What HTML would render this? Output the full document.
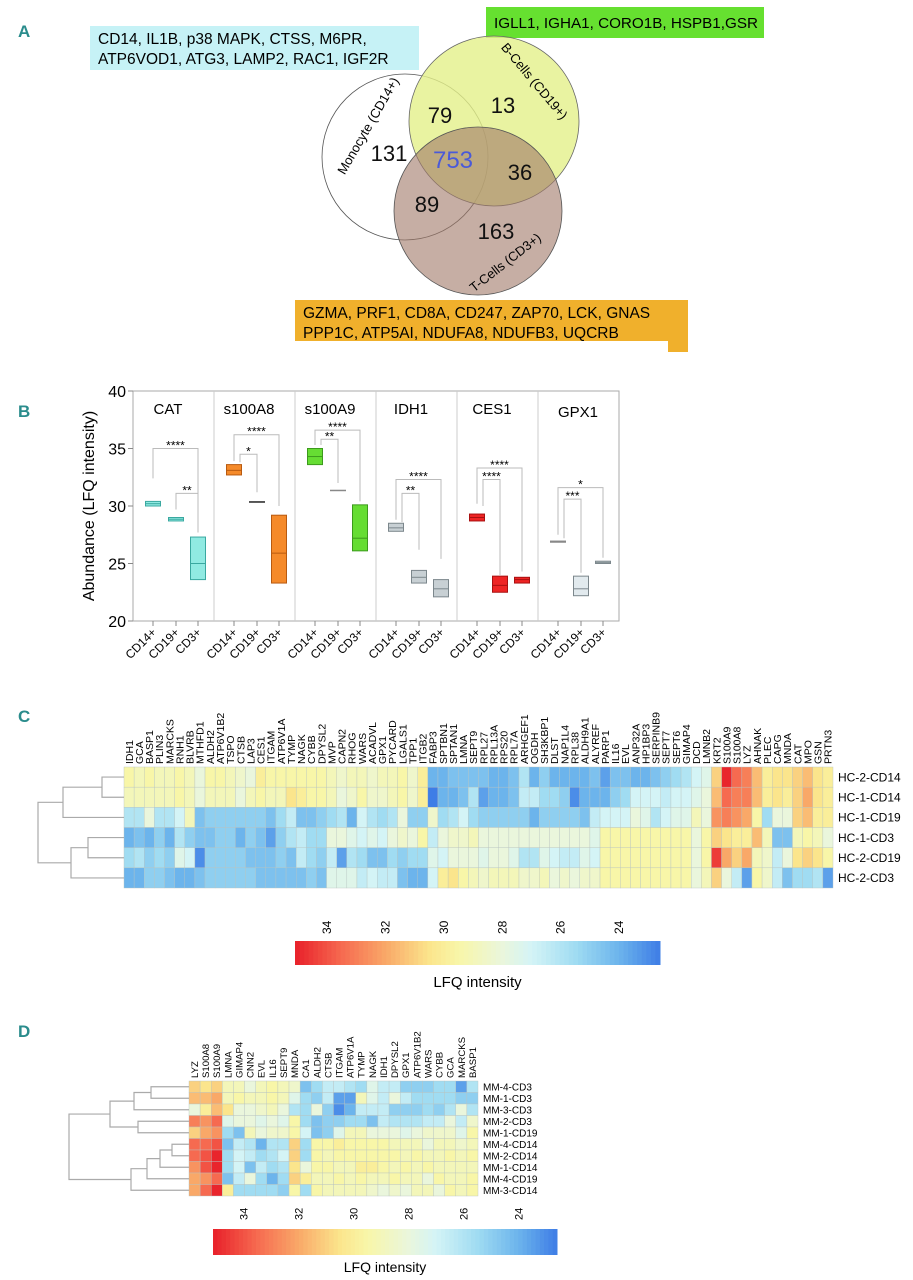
<!DOCTYPE html>
<html><head><meta charset="utf-8"><style>
html,body{margin:0;padding:0;background:#fff;}
svg{display:block;font-family:"Liberation Sans",sans-serif;}
</style></head><body>
<svg id="fig" width="913" height="1280" viewBox="0 0 913 1280" xmlns="http://www.w3.org/2000/svg">
<g fill="#2a8c8c" font-weight="bold" font-size="17" font-family="Liberation Sans Narrow, Liberation Sans, sans-serif">
<text x="18" y="37">A</text>
<text x="18" y="417">B</text>
<text x="18" y="722">C</text>
<text x="18" y="1037">D</text>
</g>
<g id="venn">
<rect x="90" y="26" width="329" height="44" fill="#c6f2f6"/>
<text x="98" y="44" font-size="15.5">CD14, IL1B, p38 MAPK, CTSS, M6PR,</text>
<text x="98" y="64" font-size="15.5">ATP6VOD1, ATG3, LAMP2, RAC1, IGF2R</text>
<rect x="486" y="7" width="278" height="31" fill="#66e030"/>
<text x="494" y="28" font-size="15" textLength="264" lengthAdjust="spacingAndGlyphs">IGLL1, IGHA1, CORO1B, HSPB1,GSR</text>
<circle cx="405" cy="157" r="83" fill="none" stroke="#555" stroke-width="0.8"/>
<circle cx="494" cy="121" r="85" fill="#e4f08a" fill-opacity="0.8" stroke="#666" stroke-width="0.8"/>
<circle cx="478" cy="211" r="84" fill="#a07868" fill-opacity="0.6" stroke="#555" stroke-width="0.8"/>
<g font-size="22" fill="#111">
<text x="440" y="123" text-anchor="middle">79</text>
<text x="503" y="113" text-anchor="middle">13</text>
<text x="389" y="161" text-anchor="middle">131</text>
<text x="453" y="168" text-anchor="middle" fill="#4a5ad8" font-size="24">753</text>
<text x="520" y="180" text-anchor="middle">36</text>
<text x="427" y="212" text-anchor="middle">89</text>
<text x="496" y="239" text-anchor="middle">163</text>
</g>
<text transform="translate(372,128) rotate(-60)" font-size="13" text-anchor="middle">Monocyte (CD14+)</text>
<text transform="translate(531,84) rotate(50)" font-size="13" text-anchor="middle">B-Cells (CD19+)</text>
<text transform="translate(508,266) rotate(-38)" font-size="13" text-anchor="middle">T-Cells (CD3+)</text>
<rect x="295" y="300" width="393" height="41" fill="#f0b02c"/>
<rect x="668" y="338" width="20" height="14" fill="#f0b02c"/>
<text x="303" y="318" font-size="15.5">GZMA, PRF1, CD8A, CD247, ZAP70, LCK, GNAS</text>
<text x="303" y="338" font-size="15.5">PPP1C, ATP5AI, NDUFA8, NDUFB3, UQCRB</text>
</g>
<g id="panelB"></g>
<g id="panelC"></g>
<g id="panelD"></g>
</svg>
<script>
const NS="http://www.w3.org/2000/svg";
function mk(tag,attrs,parent,txt){const e=document.createElementNS(NS,tag);for(const k in attrs)e.setAttribute(k,attrs[k]);if(txt!==undefined)e.textContent=txt;parent.appendChild(e);return e;}

const genesB=['CAT','s100A8','s100A9','IDH1','CES1','GPX1'];
const groupsB=['CD14+','CD19+','CD3+'];
const q1B=[[30.0,28.7,23.6],[32.7,30.3,23.3],[33.6,31.35,26.1],[27.8,23.3,22.1],[28.7,22.5,23.3],[26.9,22.2,25.0]];
const medB=[[30.2,28.85,25.0],[33.1,30.35,25.9],[34.3,31.35,27.2],[28.1,23.8,22.8],[29.0,23.1,23.6],[26.9,22.8,25.1]];
const q3B=[[30.4,29.0,27.3],[33.6,30.4,29.2],[35.0,31.35,30.1],[28.5,24.4,23.6],[29.3,23.9,23.8],[26.9,23.9,25.2]];
const yTicksB=[20,25,30,35,40];
const bracketsB=[[0,0,2,35.0,32.4,28.0,'****',0],[0,1,2,31.1,29.7,27.7,'**',0],
[1,0,2,36.2,33.9,30.0,'****',0],[1,0,1,34.5,33.8,31.2,'*',1],
[2,0,2,36.6,35.3,30.4,'****',0],[2,0,1,35.8,35.3,32.0,'**',1],
[3,0,2,32.3,28.8,25.4,'****',0],[3,0,1,31.1,28.6,26.2,'**',1],
[4,0,2,33.3,30.2,24.3,'****',0],[4,0,1,32.3,30.0,24.0,'****',1],
[5,0,2,31.6,27.5,25.5,'*',0],[5,0,1,30.6,27.2,24.2,'***',1]];
const fillB=['#90eae2','#f58a2a','#66dd33','#c8d0d4','#ee2424','#e2eaee'];
const strokeB=['#3aa8a0','#b85a10','#3c9a1c','#7c878c','#a81010','#7c878c'];

const PB={x0:133,x1:619,y0:391,y1:621,vmin:20,vmax:40};
const pw=(PB.x1-PB.x0)/genesB.length;
const offs=[20,43,65];
function yB(v){return PB.y1-(v-PB.vmin)/(PB.vmax-PB.vmin)*(PB.y1-PB.y0);}
function xB(p,g){return PB.x0+p*pw+offs[g];}
const gB=document.getElementById('panelB');
let fr=mk('rect',{x:PB.x0,y:PB.y0,width:PB.x1-PB.x0,height:PB.y1-PB.y0,fill:'none',stroke:'#aaa','stroke-width':1},gB);

for(let p=1;p<genesB.length;p++){const l=mk('line',{x1:PB.x0+p*pw,x2:PB.x0+p*pw,y1:PB.y0,y2:PB.y1,stroke:'#ccc'},gB);
}
yTicksB.forEach(t=>{const y=yB(t);mk('line',{x1:PB.x0-5,x2:PB.x0,y1:y,y2:y,stroke:'#888'},gB);
const tx=mk('text',{x:PB.x0-7,y:y+6,'font-size':16,'text-anchor':'end'},gB,t);
});
const yt=mk('text',{transform:'translate(94,'+((PB.y0+PB.y1)/2)+') rotate(-90)','font-size':16,'text-anchor':'middle'},gB,'Abundance (LFQ intensity)');

genesB.forEach((gname,p)=>{
 const tt=mk('text',{x:PB.x0+p*pw+(p===5?40:35),y:p===5?417:414,'font-size':15,'text-anchor':'middle'},gB,gname);
 
 for(let g=0;g<3;g++){
  const x=xB(p,g),a=yB(q3B[p][g]),b=yB(q1B[p][g]),m=yB(medB[p][g]);
  if(b-a<2){const ln=mk('line',{x1:x-8,x2:x+8,y1:m,y2:m,stroke:(p===1?'#222':'#888'),'stroke-width':(p===5&&g===0)?2.2:1.5},gB);
   }
  else{const r=mk('rect',{x:x-7.5,y:a,width:15,height:b-a,fill:fillB[p],stroke:strokeB[p],'stroke-width':1},gB);
   
   mk('line',{x1:x-7.5,x2:x+7.5,y1:m,y2:m,stroke:strokeB[p],'stroke-width':1},gB);}
  mk('line',{x1:x,x2:x,y1:PB.y1,y2:PB.y1+5,stroke:'#888'},gB);
  const xl=mk('text',{transform:'translate('+(x+4)+','+(PB.y1+12)+') rotate(-45)','font-size':12,'text-anchor':'end'},gB,groupsB[g]);
  
 }});
bracketsB.forEach(br=>{
 const [p,ga,gb2,lev,sa,sb,st,inner]=br;
 const xa=xB(p,ga)+(inner?6:0),xb=xB(p,gb2),yl=yB(lev);
 const pl=mk('polyline',{points:xa+','+yB(sa)+' '+xa+','+yl+' '+xb+','+yl+' '+xb+','+yB(sb),fill:'none',stroke:'#bbb','stroke-width':1},gB);
 
 const s=mk('text',{x:(xa+xb)/2,y:yl+1,'font-size':12,'text-anchor':'middle'},gB,st);
 
});

const stops=[[35.1,[232,32,42]],[33.5,[246,106,80]],[32,[249,168,104]],[30.5,[251,229,140]],[29.5,[248,246,168]],[28,[234,246,220]],[27,[212,244,246]],[25.5,[160,220,242]],[24,[108,180,236]],[22.6,[62,125,230]]];
function col(v){if(v>=stops[0][0])return 'rgb('+stops[0][1]+')';
 for(let i=0;i<stops.length-1;i++){const [a,ca]=stops[i],[b,cb]=stops[i+1];
  if(v<=a&&v>=b){const t=(a-v)/(a-b);return 'rgb('+ca.map((c,k)=>Math.round(c+(cb[k]-c)*t)).join(',')+')';}}
 return 'rgb('+stops[stops.length-1][1]+')';}
const cbTicks=[34,32,30,28,26,24];
function colorbar(g,x0,x1,y0,h,tickY,labY,fs,name){
 const vmax=35.1,vmin=22.6,n=80;
 for(let i=0;i<n;i++){const v=vmax-(i+0.5)/n*(vmax-vmin);
  mk('rect',{x:x0+i*(x1-x0)/n,y:y0,width:(x1-x0)/n+0.5,height:h,fill:col(v)},g);}
 cbTicks.forEach(t=>{const x=x0+(vmax-t)/(vmax-vmin)*(x1-x0);
  const tx=mk('text',{transform:'translate('+(x+4)+','+tickY+') rotate(-90)','font-size':fs},g,t);
  });
 const lt=mk('text',{x:(x0+x1)/2,y:labY,'font-size':fs+3,'text-anchor':'middle'},g,'LFQ intensity');
 }

const colsC=['IDH1','GCA','BASP1','PLIN3','MARCKS','RNH1','BLVRB','MTHFD1','ALDH2','ATP6V1B2','TSPO','CTSB','LAP3','CES1','ITGAM','ATP6V1A','TYMP','NAGK','CYBB','DPYSL2','MVP','CAPN2','RHOG','WARS','ACADVL','GPX1','PYCARD','LGALS1','TPP1','ITGB2','FABP3','SPTBN1','SPTAN1','LMNA','SEPT9','RPL27','RPL13A','RPS20','RPL7A','ARHGEF1','OGDH','SH3KBP1','DLST','NAP1L4','RPL38','ALDH9A1','ALYREF','PARP1','IL16','EVL','ANP32A','HP1BP3','SERPINB9','SEPT7','SEPT6','GIMAP4','DCD','LMNB2','KRT2','S100A9','S100A8','LYZ','AHNAK','PLEC','CAPG','MNDA','CAT','MPO','GSN','PRTN3'];
const rowsC=['HC-2-CD14','HC-1-CD14','HC-1-CD19','HC-1-CD3','HC-2-CD19','HC-2-CD3'];
const cHC2CD14=[29.5,29,29.5,29,29,29.5,29,28,29.5,29.5,29,28.5,28,30,29.5,29.5,29.5,29.5,29.5,29.5,29,28.5,29,29,28.5,29,29,29.5,28.5,30,24,24,24.5,24.5,24.5,24.5,24,24,24.5,26,24,25,24,24,24,24,24.5,23.5,24.5,24.5,24,24,24.5,25,25.5,26,27,27.5,31,35,33.5,33,31.5,30,30.5,30.5,31,31.5,30.5,30];
const cHC1CD14=[29,29,29,29,29,29.5,29,28,29,29,29,28,29,29.5,29,29,30.5,30,29.5,29.5,29,28,28.5,29.5,28.5,28.5,29,29.5,28.5,30,22.5,24,24,24.5,26,23.5,24,24,24.5,26.5,26.5,25.5,25.5,25,23,24,24,24,25,25.5,27,27,27,26.5,27,27,27.5,28,31.5,33.5,33,33,31.5,30,30.5,30,31,32,30.5,30];
const cHC1CD19=[26,26,28,26,26,27,29,24.5,25,25,25,25,25,25,24.5,25.5,26.5,24.5,24.5,25,25.5,26,24,27,26,25.5,26,28,25,25,28.5,25.5,26,27,25.5,25,25,25,25,25,24,25,25,25,25,24.5,26.5,27,27,27,28,27.5,26,27,27.5,27.5,29,28,32.5,33,32.5,32,29.5,25.5,28,28,31,31.5,30,30];
const cHC1CD3=[24,24.5,24,25,24,26,25,24.5,24.5,25,25,24,25,24.5,23.5,25,26,26.5,25.5,25.5,28,28,27.5,27,27.5,27,28,28.5,28,29.5,26.5,28,28.5,28.5,29,28,28,28,28,28,28,28,28,28,28,28,27.5,29.5,29.5,29.5,29.5,29.5,29.5,29.5,29.5,29.5,28,29.5,31,30.5,30,30,31.5,29,24.5,24.5,29,29.5,29,28];
const cHC2CD19=[25.5,26,25,25.5,25,27.5,27,23,25,25,25,25,24.5,24.5,24.5,25,24.5,26.5,25.5,25,26.5,23.5,26,25.5,24.5,24.5,25.5,25,25.5,25.5,27.5,27,28,28,28,27.5,28,28,27.5,26,26,27.5,27,26.5,26.5,27.5,27,29.5,29.5,29.5,29.5,29.5,29.5,29.5,29.5,29.5,28,29.5,34.5,32,31,32,29,28.5,26.5,28,30.5,31,30.5,29.5];
const cHC2CD3=[24,24,25,25,24.5,24,24,24.5,25,25,25,25,25,24.5,24.5,24.5,24.5,24.5,25,24.5,27.5,27.5,27.5,26.5,27,26.5,26.5,24.5,24,24,27,30,30.5,29.5,29,28.5,29,29,29,28.5,28.5,29,28,28.5,28,28.5,28.5,29.5,29.5,29.5,29.5,29.5,29.5,29.5,29.5,29.5,28,29,31,28,26.5,23.5,29.5,28.5,26.5,24.5,25.5,25.5,26,23.5];
const valsC=[cHC2CD14,cHC1CD14,cHC1CD19,cHC1CD3,cHC2CD19,cHC2CD3];

const colsD=['LYZ','S100A8','S100A9','LMNA','GIMAP4','CNN2','EVL','IL16','SEPT9','MNDA','CA1','ALDH2','CTSB','ITGAM','ATP6V1A','TYMP','NAGK','IDH1','DPYSL2','GPX1','ATP6V1B2','WARS','CYBB','GCA','MARCKS','BASP1'];
const rowsD=['MM-4-CD3','MM-1-CD3','MM-3-CD3','MM-2-CD3','MM-1-CD19','MM-4-CD14','MM-2-CD14','MM-1-CD14','MM-4-CD19','MM-3-CD14'];
const dMM4CD3=[31,30.5,31,29,29,28,29,29.5,29,28.5,24.5,25.5,26.5,26.5,26,25.5,27.5,26.5,26.5,25,25,25,25.5,25.5,23.5,26];
const dMM1CD3=[31.5,31.5,32,29,29.5,29,29,29.5,29,27.5,25.5,25,26.5,23.5,23.5,29,27.5,26.5,28,26.5,25.5,25.5,25.5,25.5,25,25];
const dMM3CD3=[28,30,31.5,30.5,28,28,28.5,29,28,26,25.5,28,25,23,24,26.5,26.5,26.5,25,25,25,25.5,25,26,28,26];
const dMM2CD3=[33,32.5,33.5,27.5,28,28,27.5,28,27.5,29.5,25.5,24.5,25,25,25.5,25.5,24.5,26.5,26,26,26,26.5,26.5,28,26.5,28.5];
const dMM1CD19=[31,32,32.5,25.5,24.5,29,28,28.5,28.5,29.5,27,24.5,25,27.5,29,29,28,28,28,27.5,28,28.5,28.5,28.5,27.5,29.5];
const dMM4CD14=[33.5,33.5,34,24.5,26.5,26,24,26,26,31,25.5,29.5,29.5,30,29.5,29.5,29.5,29.5,29,29,29,28,29,29,28.5,29];
const dMM2CD14=[33.5,34,35,25.5,27,26.5,25.5,26,27,31,25.5,29.5,29,29.5,29.5,29.5,29.5,29.5,29.5,29,29.5,29,29,29.5,29,29.5];
const dMM1CD14=[32.5,34,35,25.5,27,24.5,26.5,25.5,26,30.5,28,29.5,29.5,29,29,30,30,29.5,29,29.5,29,29.5,29,29,29,29];
const dMM4CD19=[32,32.5,33.5,24.5,26.5,28,25.5,24,25.5,31,30,29,29,29.5,29,29.5,29,29,29.5,29,29,28,29.5,29,29,29.5];
const dMM3CD14=[32,33.5,35,30,25.5,25.5,25.5,25.5,25,29.5,25.5,29.5,29,29,29,29,28.5,28,28.5,28,29,29,28,29.5,29,29.5];
const valsD=[dMM4CD3,dMM1CD3,dMM3CD3,dMM2CD3,dMM1CD19,dMM4CD14,dMM2CD14,dMM1CD14,dMM4CD19,dMM3CD14];

function heatmap(g,cols,rows,vals,x0,x1,y0,y1,colFs,rowFs,rowX,prefix){
 const cw=(x1-x0)/cols.length,rh=(y1-y0)/rows.length;
 rows.forEach((r,i)=>{cols.forEach((c,j)=>{
  const cell=mk('rect',{x:x0+j*cw,y:y0+i*rh,width:cw,height:rh,fill:col(vals[i][j]),stroke:'#b8c4c0','stroke-width':0.4},g);
  });
  const rl=mk('text',{x:rowX,y:y0+(i+0.5)*rh+rowFs*0.36,'font-size':rowFs},g,r);
  });
 cols.forEach((c,j)=>{const x=x0+(j+0.5)*cw;
  const cl=mk('text',{transform:'translate('+(x+colFs*0.36)+','+(y0-3)+') rotate(-90)','font-size':colFs},g,c);
  });
 return rh;}
function dendro(g,segs,name){segs.forEach(s=>{const p=mk('polyline',{points:s,fill:'none',stroke:'#aaa','stroke-width':1.2},g);
 });}

const gC=document.getElementById('panelC');
const CY0=767,CY1=888,CX0=124,CX1=833;
heatmap(gC,colsC,rowsC,valsC,CX0,CX1,CY0,CY1,10.5,12,838,'heatmap-c');
{const rh=(CY1-CY0)/6,yc=i=>CY0+(i+0.5)*rh,L=CX0;
 const a=(yc(0)+yc(1))/2,b=(a+yc(2))/2,c=(yc(3)+yc(4))/2,d=(c+yc(5))/2;
 dendro(gC,[
 L+','+yc(0)+' 102,'+yc(0)+' 102,'+yc(1)+' '+L+','+yc(1),
 '102,'+a+' 63,'+a+' 63,'+yc(2)+' '+L+','+yc(2),
 L+','+yc(3)+' 88,'+yc(3)+' 88,'+yc(4)+' '+L+','+yc(4),
 '88,'+c+' 71,'+c+' 71,'+yc(5)+' '+L+','+yc(5),
 '63,'+b+' 38,'+b+' 38,'+d+' 71,'+d],'dendrogram-c');}
colorbar(gC,295,660,941,24,934,987,12,'colorbar-c-title');

const gD=document.getElementById('panelD');
const DY0=1081,DY1=1196,DX0=189,DX1=478;
heatmap(gD,colsD,rowsD,valsD,DX0,DX1,DY0,DY1,9.6,10,483,'heatmap-d');
{const rh=(DY1-DY0)/10,yc=i=>DY0+(i+0.5)*rh,L=DX0;
 const a=(yc(0)+yc(1))/2,b=(a+yc(2))/2,c=(yc(3)+yc(4))/2,top=(b+c)/2;
 const e=(yc(5)+yc(6))/2,f=(e+yc(7))/2,h=(f+yc(8))/2,k=(h+yc(9))/2;
 dendro(gD,[
 L+','+yc(0)+' 151,'+yc(0)+' 151,'+yc(1)+' '+L+','+yc(1),
 '151,'+a+' 134,'+a+' 134,'+yc(2)+' '+L+','+yc(2),
 L+','+yc(3)+' 138,'+yc(3)+' 138,'+yc(4)+' '+L+','+yc(4),
 '134,'+b+' 110,'+b+' 110,'+c+' 138,'+c,
 L+','+yc(5)+' 172,'+yc(5)+' 172,'+yc(6)+' '+L+','+yc(6),
 '172,'+e+' 160,'+e+' 160,'+yc(7)+' '+L+','+yc(7),
 '160,'+f+' 147,'+f+' 147,'+yc(8)+' '+L+','+yc(8),
 '147,'+h+' 131,'+h+' 131,'+yc(9)+' '+L+','+yc(9),
 '110,'+top+' 69,'+top+' 69,'+k+' 131,'+k],'dendrogram-d');}
colorbar(gD,213,557,1229,26,1220,1272,11,'colorbar-d-title');
</script>
</body></html>
